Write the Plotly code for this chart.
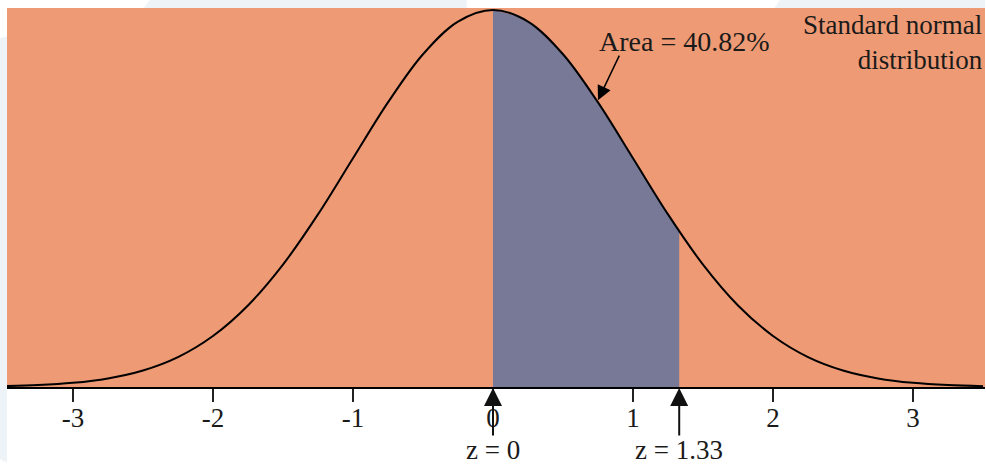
import plotly.graph_objects as go

# Curve values (density heights at each z)
z_vals = [-3.5, -3.25, -3.0, -2.75, -2.5, -2.25, -2.0, -1.75, -1.5, -1.25, -1.0, -0.75, -0.5, -0.25,
          0.0, 0.25, 0.5, 0.75, 1.0, 1.25, 1.5, 1.75, 2.0, 2.25, 2.5, 2.75, 3.0, 3.25, 3.5]
density = [0.0009, 0.0020, 0.0044, 0.0091, 0.0175, 0.0317, 0.0540, 0.0863, 0.1295, 0.1826, 0.2420,
           0.3011, 0.3521, 0.3867, 0.3989, 0.3867, 0.3521, 0.3011, 0.2420, 0.1826, 0.1295, 0.0863,
           0.0540, 0.0317, 0.0175, 0.0091, 0.0044, 0.0020, 0.0009]

shade_z = [0.0, 0.25, 0.5, 0.75, 1.0, 1.25, 1.33]
shade_d = [0.3989, 0.3867, 0.3521, 0.3011, 0.2420, 0.1826, 0.1647]

tick_vals = [-3, -2, -1, 0, 1, 2, 3]
tick_text = ["-3", "-2", "-1", "0", "1", "2", "3"]

area_label = "Area = 40.82%"
title_label = "Standard normal<br>distribution"
z_marks = [0.0, 1.33]
z_labels = ["z = 0", "z = 1.33"]

SERIF = "Liberation Serif, Times New Roman, serif"
TXT = "#1a1a1a"

fig = go.Figure()
fig.add_trace(go.Scatter(x=shade_z, y=shade_d, mode="lines", line=dict(width=0, shape="spline"),
                         fill="tozeroy", fillcolor="#777996", hoverinfo="skip", showlegend=False))
fig.add_trace(go.Scatter(x=z_vals, y=density, mode="lines",
                         line=dict(color="black", width=2, shape="spline", smoothing=1.0),
                         hoverinfo="skip", showlegend=False))

# decorative faint page background
shapes = [
    dict(type="path", xref="paper", yref="paper", layer="below",
         path="M 0.146 1.021 L 0.47 1.021 L 0.47 1.0 L 0.14 1.0 Z",
         fillcolor="#eef3f7", line=dict(width=0)),
    dict(type="path", xref="paper", yref="paper", layer="below",
         path="M 0.79 1.021 L 1.0 1.021 L 1.0 1.0 L 0.785 1.0 Z",
         fillcolor="#eef3f7", line=dict(width=0)),
    dict(type="path", xref="paper", yref="paper", layer="below",
         path="M -0.0072 0.92 L 0.0 0.925 L 0.0 -0.2 L -0.0072 -0.19 Z",
         fillcolor="#eef3f7", line=dict(width=0)),
]

annotations = []
annotations.append(dict(x=1.371, y=0.366, xref="x", yref="y", text=area_label, showarrow=False,
                        font=dict(family=SERIF, size=28, color=TXT), xanchor="center", yanchor="middle"))
annotations.append(dict(x=0.75, y=0.3035, xref="x", yref="y", ax=22, ay=-46, text="",
                        showarrow=True, arrowhead=2, arrowsize=1.9, arrowwidth=1.5, arrowcolor="black"))
annotations.append(dict(x=1.0, y=0.999, xref="paper", yref="paper", text=title_label, showarrow=False,
                        font=dict(family=SERIF, size=27, color=TXT), xanchor="right", yanchor="top",
                        align="right"))
for zm, zl in zip(z_marks, z_labels):
    annotations.append(dict(x=zm, y=0, xref="x", yref="y", ax=0, ay=50, text="",
                            showarrow=True, arrowhead=2, arrowsize=1.8, arrowwidth=2,
                            arrowcolor="#111111", standoff=1))
    annotations.append(dict(x=zm, y=-0.166, xref="x", yref="paper", text=zl, showarrow=False,
                            font=dict(family=SERIF, size=27, color=TXT), xanchor="center",
                            yanchor="middle"))

fig.update_layout(
    width=986, height=464,
    margin=dict(l=7, r=1, t=8, b=77),
    plot_bgcolor="#ee9a75", paper_bgcolor="white",
    xaxis=dict(range=[-3.471, 3.514], tickvals=tick_vals, ticktext=tick_text,
               showgrid=False, zeroline=False, showline=True, linecolor="black", linewidth=2,
               ticks="outside", ticklen=13, tickwidth=2, tickcolor="#222",
               ticklabelstandoff=-7,
               tickfont=dict(family=SERIF, size=27, color=TXT), fixedrange=True),
    yaxis=dict(range=[0, 0.401], visible=False, showgrid=False, zeroline=False, fixedrange=True),
    shapes=shapes, annotations=annotations, showlegend=False,
)

fig.write_html("out.html", config={"displayModeBar": False},
               post_script="document.body.style.margin='0';document.body.style.overflow='hidden';")
